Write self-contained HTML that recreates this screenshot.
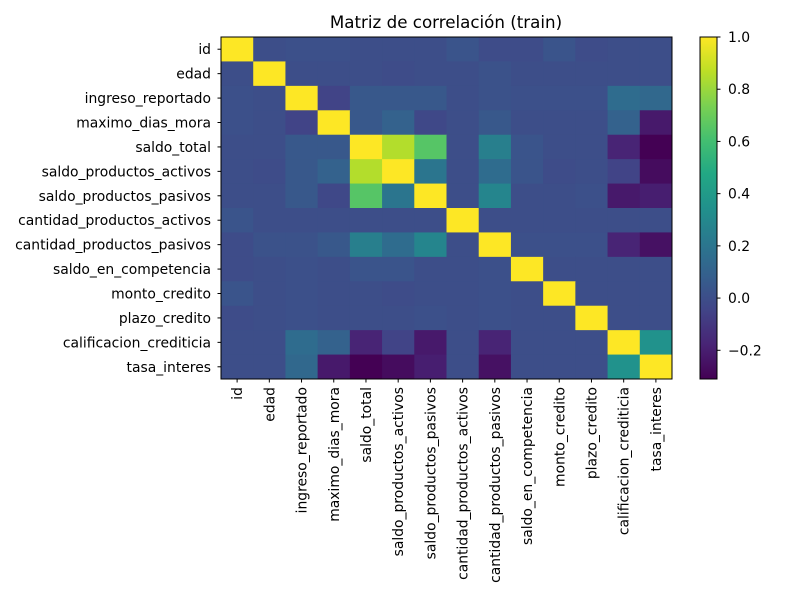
<!DOCTYPE html>
<html><head><meta charset="utf-8"><style>
body{margin:0;background:#fff}
svg text{font-family:"DejaVu Sans","Liberation Sans",sans-serif;fill:#000}
</style></head><body>
<svg id="chart" width="800" height="600" xmlns="http://www.w3.org/2000/svg">
<rect width="800" height="600" fill="#fff"/>
<text x="446" y="28" font-size="16.7" text-anchor="middle">Matriz de correlación (train)</text>
<g id="cells"></g><g id="ticks"></g>
<rect x="221" y="37" width="451" height="342" fill="none" stroke="#000" stroke-width="1"/>
<defs><linearGradient id="cbg" x1="0" y1="1" x2="0" y2="0"></linearGradient></defs>
<rect id="cbar" x="700" y="37" width="17" height="342" fill="url(#cbg)" stroke="#000" stroke-width="1"/>
<g id="cbticks"></g>
</svg>
<script>
const labels=["id","edad","ingreso_reportado","maximo_dias_mora","saldo_total","saldo_productos_activos","saldo_productos_pasivos","cantidad_productos_activos","cantidad_productos_pasivos","saldo_en_competencia","monto_credito","plazo_credito","calificacion_crediticia","tasa_interes"];
const upperRow0=[1,0.0,0.01,0.01,0.0,0.0,0.0,0.03,-0.01,-0.01,0.03,-0.01,0.0,0.0];
const upperRow1=[1,0.0,0.0,0.0,-0.01,0.0,0.0,0.02,0.0,0.0,0.0,0.0,0.0];
const upperRow2=[1,-0.05,0.05,0.05,0.05,0.0,0.02,0.01,0.01,0.01,0.15,0.13];
const upperRow3=[1,0.05,0.1,-0.03,0.0,0.05,0.0,0.0,0.0,0.1,-0.22];
const upperRow4=[1,0.85,0.65,0.0,0.25,0.03,0.0,0.0,-0.18,-0.31];
const upperRow5=[1,0.2,0.0,0.15,0.03,-0.01,0.0,-0.05,-0.27];
const upperRow6=[1,0.0,0.28,0.0,0.0,0.01,-0.22,-0.2];
const upperRow7=[1,0.0,0.0,0.0,0.0,0.0,0.0];
const upperRow8=[1,0.01,0.01,0.01,-0.18,-0.25];
const upperRow9=[1,0.0,0.0,0.0,0.0];
const upperRow10=[1,0.0,0.0,0.0];
const upperRow11=[1,0.0,0.0];
const upperRow12=[1,0.35];
const upperRow13=[1];
const upper=[upperRow0,upperRow1,upperRow2,upperRow3,upperRow4,upperRow5,upperRow6,upperRow7,upperRow8,upperRow9,upperRow10,upperRow11,upperRow12,upperRow13];
const cbTickValues=[-0.2,0.0,0.2,0.4,0.6,0.8,1.0];
const cbTickLabels=["\u22120.2","0.0","0.2","0.4","0.6","0.8","1.0"];
const vmin=-0.31,vmax=1.0;
const V=[[68,1,84],[72,36,117],[65,68,135],[53,95,141],[42,120,142],[33,145,140],[34,168,132],[68,191,112],[122,209,81],[189,223,38],[253,231,37]];
function viridis(t){t=Math.max(0,Math.min(1,t));const p=t*10,i=Math.min(9,Math.floor(p)),f=p-i;const c=V[i].map((a,k)=>Math.round(a+(V[i+1][k]-a)*f));return `rgb(${c})`;}
function val(i,j){return i<=j?upper[i][j-i]:upper[j][i-j];}
const X0=221,Y0=37,W=451,H=342,n=labels.length,cw=W/n,ch=H/n;
const xs=j=>X0+j*cw, ys=i=>Y0+i*ch;
const NS="http://www.w3.org/2000/svg";
const cells=document.getElementById('cells'),ticks=document.getElementById('ticks');
for(let i=0;i<n;i++)for(let j=0;j<n;j++){
 const r=document.createElementNS(NS,'rect');
 
 
 r.setAttribute('x',xs(j));r.setAttribute('y',ys(i));r.setAttribute('width',cw+0.5);r.setAttribute('height',ch+0.5);
 r.setAttribute('fill',viridis((val(i,j)-vmin)/(vmax-vmin)));cells.appendChild(r);}
labels.forEach((l,i)=>{
 const cy=ys(i)+ch/2;
 const t=document.createElementNS(NS,'line');t.setAttribute('x1',X0-3.5);t.setAttribute('x2',X0);t.setAttribute('y1',cy);t.setAttribute('y2',cy);t.setAttribute('stroke','#000');ticks.appendChild(t);
 const tx=document.createElementNS(NS,'text');
 
 
 tx.setAttribute('x',X0-10);tx.setAttribute('y',cy+5);tx.setAttribute('font-size','13.9');tx.setAttribute('text-anchor','end');tx.textContent=l;ticks.appendChild(tx);
 const cx=xs(i)+cw/2;
 const t2=document.createElementNS(NS,'line');t2.setAttribute('x1',cx);t2.setAttribute('x2',cx);t2.setAttribute('y1',Y0+H);t2.setAttribute('y2',Y0+H+3.5);t2.setAttribute('stroke','#000');ticks.appendChild(t2);
 const lx=document.createElementNS(NS,'text');
 
 
 lx.setAttribute('font-size','13.9');lx.setAttribute('text-anchor','end');
 lx.setAttribute('transform',`translate(${cx+5},${Y0+H+8}) rotate(-90)`);lx.textContent=l;ticks.appendChild(lx);
});
const g=document.getElementById('cbg');
for(let k=0;k<=10;k++){const s=document.createElementNS(NS,'stop');s.setAttribute('offset',k/10);s.setAttribute('stop-color',`rgb(${V[k]})`);g.appendChild(s);}
const cbt=document.getElementById('cbticks');
const cy=v=>37+342*(vmax-v)/(vmax-vmin);
cbTickValues.forEach((v,k)=>{
 const y=cy(v);
 const t=document.createElementNS(NS,'line');t.setAttribute('x1',717);t.setAttribute('x2',720.5);t.setAttribute('y1',y);t.setAttribute('y2',y);t.setAttribute('stroke','#000');cbt.appendChild(t);
 const tx=document.createElementNS(NS,'text');
 
 
 tx.setAttribute('x',728);tx.setAttribute('y',y+5);tx.setAttribute('font-size','13.9');tx.textContent=cbTickLabels[k];cbt.appendChild(tx);
});
</script>
</body></html>
